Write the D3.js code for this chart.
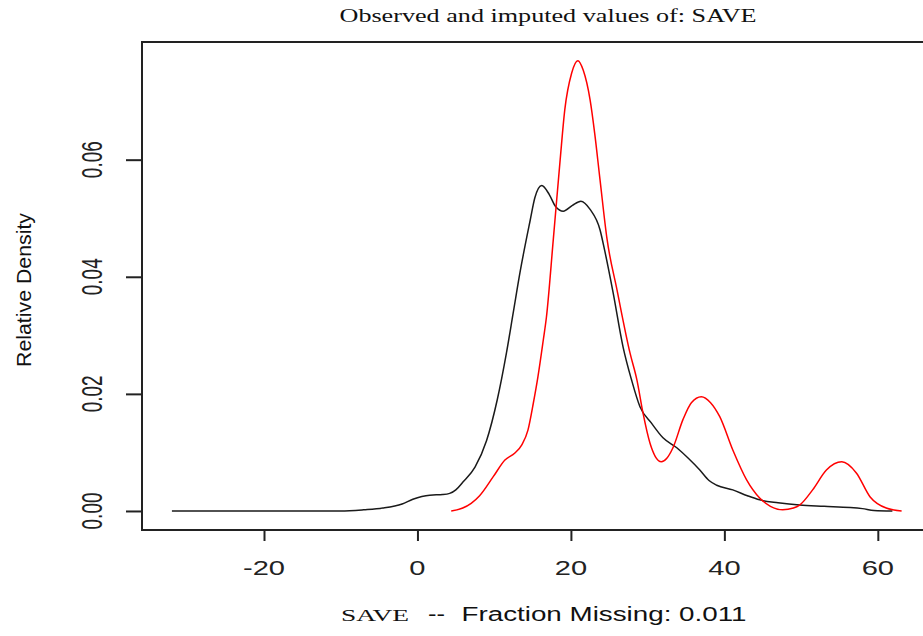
<!DOCTYPE html>
<html><head><meta charset="utf-8">
<script src="https://cdn.jsdelivr.net/npm/d3@7"></script>
<style>body{margin:0;background:#fff}svg{display:block}</style>
</head><body>
<script>
// Observed density (black)
const observedX = [-32,-20,-10,-7,-4.5,-2,-0.6,1.6,3.3,4.2,5.0,5.9,7.5,9.0,10.4,11.6,12.5,13.4,14.7,15.3,16.2,17.2,18.0,19.0,20.2,21.3,22.5,23.8,24.4,25.5,26.8,27.9,29.0,30.5,32.0,33.8,35.3,36.8,38.0,39.0,41.1,43.0,44.6,47.0,49.8,53.0,56.4,58.0,59.5,61.9];
const observedY = [0,0,0,0.0002,0.0005,0.0012,0.002,0.0027,0.0028,0.0030,0.0036,0.0049,0.0075,0.012,0.019,0.027,0.034,0.041,0.0497,0.0535,0.0556,0.0540,0.0520,0.0512,0.0522,0.0529,0.0515,0.0480,0.0445,0.0373,0.0280,0.0224,0.0178,0.0150,0.0125,0.0108,0.0090,0.0070,0.0052,0.0044,0.0036,0.0026,0.0019,0.0014,0.0010,0.0008,0.0006,0.0004,0.0001,0];
// Imputed density (red)
const imputedX = [4.4,5.9,7.0,8.1,9.9,11.4,12.7,13.6,14.4,15.1,15.7,16.4,16.8,17.7,18.6,19.2,20.1,20.9,21.6,22.5,23.1,23.8,24.7,26.0,27.7,28.6,29.4,30.3,31.0,31.8,32.5,33.3,34.6,35.7,37.0,38.2,39.4,41.1,42.9,44.6,46.0,47.6,49.0,49.8,51.5,53.3,55.3,57.2,59.0,61.1,63.1];
const imputedY = [0,0.0005,0.0013,0.0026,0.0059,0.0087,0.0099,0.0113,0.0138,0.0184,0.0229,0.0292,0.033,0.0463,0.060,0.0685,0.0748,0.0769,0.0753,0.0702,0.0645,0.0565,0.0465,0.0378,0.0270,0.0224,0.0167,0.0116,0.0093,0.0084,0.0090,0.0108,0.0156,0.0185,0.0195,0.0185,0.0161,0.0104,0.0053,0.0022,0.0008,0.0002,0.0005,0.0010,0.0036,0.0070,0.0084,0.0065,0.0024,0.0005,0];
const xTicks = [-20,0,20,40,60];
const yTicks = [0,0.02,0.04,0.06];
const yTickLabels = ["0.00","0.02","0.04","0.06"];
const titleText = "Observed and imputed values of: SAVE";
const xLabelVar = "SAVE";
const xLabelRest = "Fraction Missing: 0.011";
const yLabelText = "Relative Density";

const W = 923, H = 636;
const svg = d3.select("body").append("svg").attr("width", W).attr("height", H);
const x = d3.scaleLinear().domain([-35.9, 66.8]).range([142, 930]);
const y = d3.scaleLinear().domain([-0.00325, 0.0801]).range([530, 42]);

const line = d3.line().x(d => x(d[0])).y(d => y(d[1])).curve(d3.curveMonotoneX);
const obs = observedX.map((v, i) => [v, observedY[i]]);
const imp = imputedX.map((v, i) => [v, imputedY[i]]);

svg.append("path").datum(obs).attr("d", line).attr("fill", "none").attr("stroke", "#1a1a1a").attr("stroke-width", 1.5);
svg.append("path").datum(imp).attr("d", line).attr("fill", "none").attr("stroke", "#ff0000").attr("stroke-width", 1.5);

// box
svg.append("rect").attr("x", x(-35.9)).attr("y", y(0.0801)).attr("width", x(66.8) - x(-35.9)).attr("height", y(-0.00325) - y(0.0801))
  .attr("fill", "none").attr("stroke", "#222").attr("stroke-width", 2);

// x axis
const xg = svg.append("g").attr("transform", `translate(0,${y(-0.00325)})`)
  .call(d3.axisBottom(x).tickValues(xTicks).tickSize(11).tickSizeOuter(0).tickFormat(d => ""));
xg.select(".domain").remove();
xg.selectAll(".tick line").attr("stroke", "#222").attr("stroke-width", 2);
xTicks.forEach(t => {
  svg.append("text").attr("transform", `translate(${x(t)},575) scale(1.42,1)`)
    .attr("text-anchor", "middle").attr("font-family", "Liberation Sans, Arial, sans-serif")
    .attr("font-size", 20.5).attr("fill", "#222").text(t);
});

// y axis
const yg = svg.append("g").attr("transform", `translate(${x(-35.9)},0)`)
  .call(d3.axisLeft(y).tickValues(yTicks).tickSize(16).tickSizeOuter(0).tickFormat(d => ""));
yg.select(".domain").remove();
yg.selectAll(".tick line").attr("stroke", "#222").attr("stroke-width", 2);
yTicks.forEach((t, i) => {
  svg.append("text").attr("transform", `translate(101.5,${y(t)}) scale(1.55,1) rotate(-90)`)
    .attr("text-anchor", "middle").attr("font-family", "Liberation Sans, Arial, sans-serif")
    .attr("font-size", 19).attr("fill", "#222").text(yTickLabels[i]);
});

// title
svg.append("text").attr("x", 548).attr("y", 22).attr("text-anchor", "middle")
  .attr("font-family", "Liberation Serif, Times New Roman, serif").attr("font-size", 18)
  .attr("textLength", 417).attr("lengthAdjust", "spacingAndGlyphs").attr("fill", "#111").text(titleText);

// x label
svg.append("text").attr("x", 341).attr("y", 621).attr("font-family", "Liberation Serif, Times New Roman, serif")
  .attr("font-size", 17).attr("textLength", 68).attr("lengthAdjust", "spacingAndGlyphs").attr("fill", "#111").text(xLabelVar);
svg.append("text").attr("x", 428).attr("y", 621).attr("font-family", "Liberation Sans, Arial, sans-serif")
  .attr("font-size", 19.5).attr("textLength", 17).attr("lengthAdjust", "spacingAndGlyphs").attr("fill", "#111").text("--");
svg.append("text").attr("x", 461.5).attr("y", 621).attr("font-family", "Liberation Sans, Arial, sans-serif")
  .attr("font-size", 19.5).attr("textLength", 285).attr("lengthAdjust", "spacingAndGlyphs").attr("fill", "#111").text(xLabelRest);

// y label
svg.append("text").attr("transform", `translate(31,290) rotate(-90)`).attr("text-anchor", "middle")
  .attr("font-family", "Liberation Sans, Arial, sans-serif").attr("font-size", 21)
  .attr("textLength", 154).attr("lengthAdjust", "spacingAndGlyphs").attr("fill", "#111").text(yLabelText);
</script>
</body></html>
